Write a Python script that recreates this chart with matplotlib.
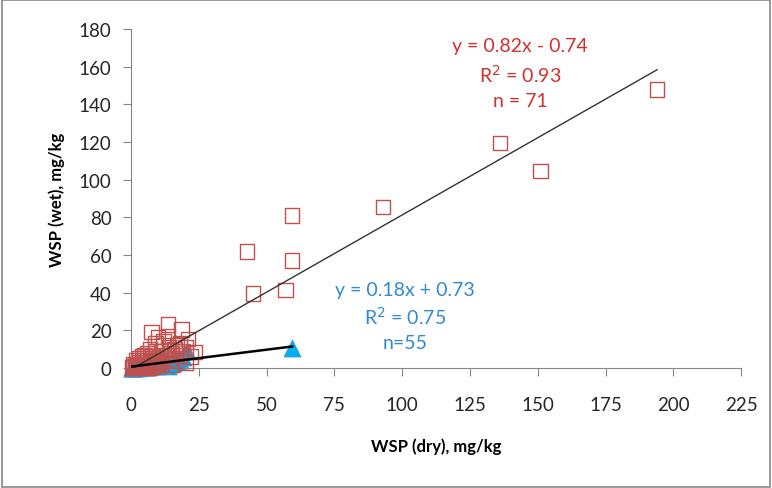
import matplotlib
matplotlib.use("Agg")
import matplotlib.pyplot as plt
from matplotlib.patches import Rectangle
import numpy as np

plt.rcParams['font.family'] = ['Lato', 'DejaVu Sans']

# WSP measured on dry vs wet basis, mg/kg
red_x = [194, 136, 151, 93, 59.4, 59.4, 57, 45, 42.8,
         7.6, 13.7, 18.7, 21, 23.6, 13.7, 10, 18, 20, 12, 16, 9, 11, 14, 6, 5, 3, 2, 1, 4,
         8, 7, 9, 10, 12, 15, 17, 19, 22, 6, 5, 3, 2, 1, 0.5, 1.5, 2.5, 3.5, 4.5, 6, 8,
         11, 13, 16, 18, 20, 7, 9, 12, 4, 2, 1, 3, 6, 5, 10, 14, 11, 8, 15, 0.8, 1.8]
red_y = [148, 119.5, 104.5, 85.5, 81, 57, 41.5, 39.5, 62,
         19, 23, 20.5, 15.5, 8.5, 17, 16.5, 6.5, 3, 12, 10, 9, 7, 5, 4, 2, 1, 0.5, 0.3, 3,
         6, 2, 3, 1, 4, 8, 12, 9, 6, 8, 5, 3, 2, 1, 0.2, 0.8, 1.5, 0.6, 1.2, 1, 0.5,
         2.5, 6.5, 4, 13, 11, 10, 13, 14, 6, 4, 2, 5, 0.4, 7, 5, 11, 9, 3.5, 2, 0.5, 1.3]

blue_x = [59.4, 20.5, 19, 15, 13, 12, 10, 8, 7, 6,
          5, 4, 3, 2, 1, 0.5, 1.5, 2.5, 3.5, 4.5,
          5.5, 6.5, 7.5, 8.5, 9.5, 11, 14, 16, 17, 18,
          0.2, 0.8, 1.2, 1.8, 2.2, 2.8, 3.2, 3.8, 4.2, 4.8,
          5.2, 5.8, 6.2, 6.8, 7.2, 9, 10.5, 12.5, 13.5, 15.5,
          1, 2, 3, 0.3, 0.6]
blue_y = [10.6, 9, 6, 4, 3, 2, 2.5, 1.5, 1, 2,
          1, 0.8, 0.6, 0.4, 0.2, 0.1, 0.5, 0.7, 1, 1.2,
          0.9, 1.5, 2, 2.5, 1, 3, 2, 5, 3.5, 4,
          0, 0.3, 0.1, 0.6, 0.2, 1.1, 0.3, 0.5, 1.5, 0.4,
          2, 0.7, 0.3, 2.5, 0.8, 3.5, 1.5, 4, 1, 2.5,
          1.2, 1.8, 2, 0.5, 0.9]

# linear fits (slope, intercept)
red_fit = (0.82, -0.74)
blue_fit = (0.18, 0.73)

red_lines = ['y = 0.82x - 0.74', 'R$^2$ = 0.93', 'n = 71']
blue_lines = ['y = 0.18x + 0.73', 'R$^2$ = 0.75', 'n=55']

fig = plt.figure(figsize=(7.72, 4.89), dpi=100)
ax = fig.add_axes([0.1697, 0.2454, 0.7903, 0.6933])

ax.scatter(blue_x, blue_y, marker='^', s=150, facecolor='#00b0f0',
           edgecolor='#3d8fd1', linewidth=0.5, zorder=2.5, clip_on=False)
ax.scatter(red_x, red_y, marker='s', s=110, facecolor='none',
           edgecolor='#c0504d', linewidth=1.0, zorder=3, clip_on=False)

xr = np.array([min(red_x), max(red_x)])
ax.plot(xr, red_fit[0] * xr + red_fit[1], color='#333333', lw=1.0, zorder=4)
xb = np.array([min(blue_x), max(blue_x)])
ax.plot(xb, blue_fit[0] * xb + blue_fit[1], color='black', lw=1.8, zorder=4)

ax.set_xlim(0, 225)
ax.set_ylim(0, 180)
ax.set_xticks(np.arange(0, 226, 25))
ax.set_yticks(np.arange(0, 181, 20))
for side in ['top', 'right']:
    ax.spines[side].set_visible(False)
for side in ['left', 'bottom']:
    ax.spines[side].set_color('#868686')
ax.tick_params(direction='out', length=6, color='#868686', labelsize=13.5,
               labelcolor='#262626', pad=8)
ax.tick_params(axis='x', pad=14)

ax.set_xlabel('WSP (dry), mg/kg', fontsize=12, fontweight='bold', labelpad=18)
ax.set_ylabel('WSP (wet), mg/kg', fontsize=12, fontweight='bold', labelpad=10)

# fit equations, one line each
for i, s in enumerate(red_lines):
    ax.text(0.638, 0.950 - 0.081 * i, s, transform=ax.transAxes,
            ha='center', va='center', color='#d0312d', fontsize=14)
for i, s in enumerate(blue_lines):
    ax.text(0.449, 0.233 - 0.079 * i, s, transform=ax.transAxes,
            ha='center', va='center', color='#2e8ad0', fontsize=14)

fig.patches.append(Rectangle((0.002, 0.003), 0.996, 0.994, transform=fig.transFigure,
                             fill=False, edgecolor='#888888', lw=1.2))

fig.savefig('out.png', dpi=100)
